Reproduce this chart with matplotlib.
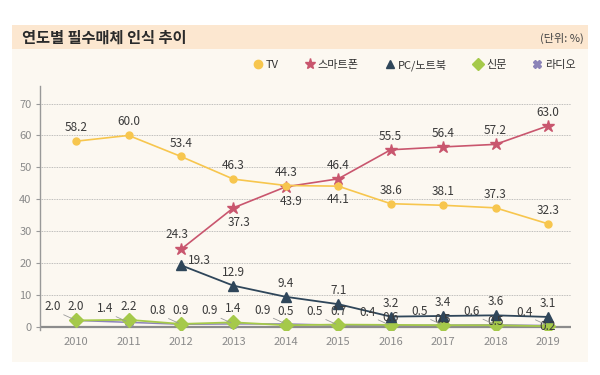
import matplotlib
matplotlib.use('Agg')
import matplotlib.pyplot as plt
from matplotlib.lines import Line2D
from matplotlib.patches import Rectangle
import numpy as np

plt.rcParams['font.family'] = ['Noto Sans CJK KR', 'DejaVu Sans']

years = [2010, 2011, 2012, 2013, 2014, 2015, 2016, 2017, 2018, 2019]
pc_years = [2012, 2013, 2014, 2015, 2016, 2017, 2018, 2019]
tv = [58.2, 60.0, 53.4, 46.3, 44.3, 44.1, 38.6, 38.1, 37.3, 32.3]
smartphone = [24.3, 37.3, 43.9, 46.4, 55.5, 56.4, 57.2, 63.0]
pc = [19.3, 12.9, 9.4, 7.1, 3.2, 3.4, 3.6, 3.1]
newspaper = [2.0, 2.2, 0.9, 1.4, 0.5, 0.7, 0.6, 0.5, 0.5, 0.2]
radio = [2.0, 1.4, 0.8, 0.9, 0.9, 0.5, 0.4, 0.5, 0.6, 0.4]
series_names = ['TV', '스마트폰', 'PC/노트북', '신문', '라디오']

c_tv = '#F7C64E'
c_sp = '#C9566E'
c_pc = '#2F465A'
c_np = '#A5C94A'
c_rd = '#8C84B8'
txt = '#3A3A3A'

fig = plt.figure(figsize=(6, 3.75), dpi=100)
fig.patch.set_facecolor('white')

# panel background + header band (behind the axes)
fig.add_artist(Rectangle((12/600, 1-362/375), 576/600, (362-49)/375,
                         transform=fig.transFigure, facecolor='#FCF8F1', edgecolor='none', zorder=-2))
fig.add_artist(Rectangle((12/600, 1-49/375), 576/600, 24/375,
                         transform=fig.transFigure, facecolor='#FCE7D0', edgecolor='none', zorder=-2))
fig.text(22/600, 1-38/375, '연도별 필수매체 인식 추이', fontsize=11, fontweight='bold',
         color='#2B2B2B', va='center', ha='left')
fig.text(584/600, 1-38/375, '(단위: %)', fontsize=8, color='#444444', va='center', ha='right')

ax = fig.add_axes([40/600, 1-330/375, 531/600, (330-86)/375])
ax.set_zorder(2)
ax.set_facecolor('none')
ax.set_xlim(2009.31, 2019.44)
ax.set_ylim(-1, 75.5)
ax.set_yticks(np.arange(0, 80, 10))
ax.set_xticks(years)
ax.tick_params(axis='y', length=3, color='#999999', labelsize=8, labelcolor='#8A8A8A', pad=3)
ax.tick_params(axis='x', length=0, labelsize=8, labelcolor='#8A8A8A', pad=5)
for s in ['top', 'right', 'bottom']:
    ax.spines[s].set_visible(False)
ax.spines['left'].set_color('#999999')
ax.spines['left'].set_linewidth(1.0)
for v in range(10, 80, 10):
    ax.axhline(v, color='#AAAAAA', lw=0.6, ls=(0, (1, 1)), zorder=1)
ax.axhline(0, color='#8C8C8C', lw=1.6, zorder=2)

ax.plot(years, radio, color=c_rd, lw=1.1, marker='X', ms=6, zorder=3)
ax.plot(years, newspaper, color=c_np, lw=1.3, marker='D', ms=7, zorder=4)
ax.plot(pc_years, pc, color=c_pc, lw=1.3, marker='^', ms=7, zorder=5)
ax.plot(pc_years, smartphone, color=c_sp, lw=1.2, marker='*', ms=9, zorder=5)
ax.plot(years, tv, color=c_tv, lw=1.2, marker='o', ms=5, zorder=5)

fs = 8.5

def lab(x, y, s, dx=0, dy=5, ha='center', va='bottom'):
    ax.annotate(s, (x, y), xytext=(dx, dy), textcoords='offset points',
                ha=ha, va=va, fontsize=fs, color=txt, zorder=6)

for x, y in zip(years, tv):
    if x == 2015:
        lab(x, y, '%.1f' % y, dy=-5, va='top')
    else:
        lab(x, y, '%.1f' % y)

for x, y in zip(pc_years, smartphone):
    if x == 2012:
        lab(x, y, '%.1f' % y, dx=-3, dy=6)
    elif x in (2013, 2014):
        lab(x, y, '%.1f' % y, dx=4, dy=-6, va='top')
    else:
        lab(x, y, '%.1f' % y)

for x, y in zip(pc_years, pc):
    if x == 2012:
        lab(x, y, '%.1f' % y, dx=5, dy=-1, ha='left', va='bottom')
    else:
        lab(x, y, '%.1f' % y)

# newspaper labels sit lower where the PC line crowds them
np_dy = {2016: 5, 2017: 4, 2018: 3, 2019: 0}
for x, y in zip(years, newspaper):
    if x in np_dy:
        lab(x, y, '%.1f' % y, dy=np_dy[x], va='center')
    else:
        lab(x, y, '%.1f' % y, dy=5)

for x, y in zip(years, radio):
    ax.annotate('%.1f' % y, (x, y), xytext=(-11, 5), textcoords='offset points',
                ha='right', va='bottom', fontsize=fs, color=txt, zorder=6,
                arrowprops=dict(arrowstyle='-', color='#999999', lw=0.6,
                                shrinkA=0, shrinkB=2, relpos=(1, 0)))

handles = [
    Line2D([], [], ls='none', marker='o', ms=6, color=c_tv),
    Line2D([], [], ls='none', marker='*', ms=8, color=c_sp),
    Line2D([], [], ls='none', marker='^', ms=6, color=c_pc),
    Line2D([], [], ls='none', marker='D', ms=6, color=c_np),
    Line2D([], [], ls='none', marker='X', ms=6, color=c_rd),
]
fig.legend(handles, series_names, ncol=5, loc='center right',
           bbox_to_anchor=(586/600, 1-65/375), frameon=False, fontsize=8,
           handlelength=0.8, handletextpad=0.3, columnspacing=2.4,
           labelcolor='#333333')

fig.savefig('out.png', dpi=100)
